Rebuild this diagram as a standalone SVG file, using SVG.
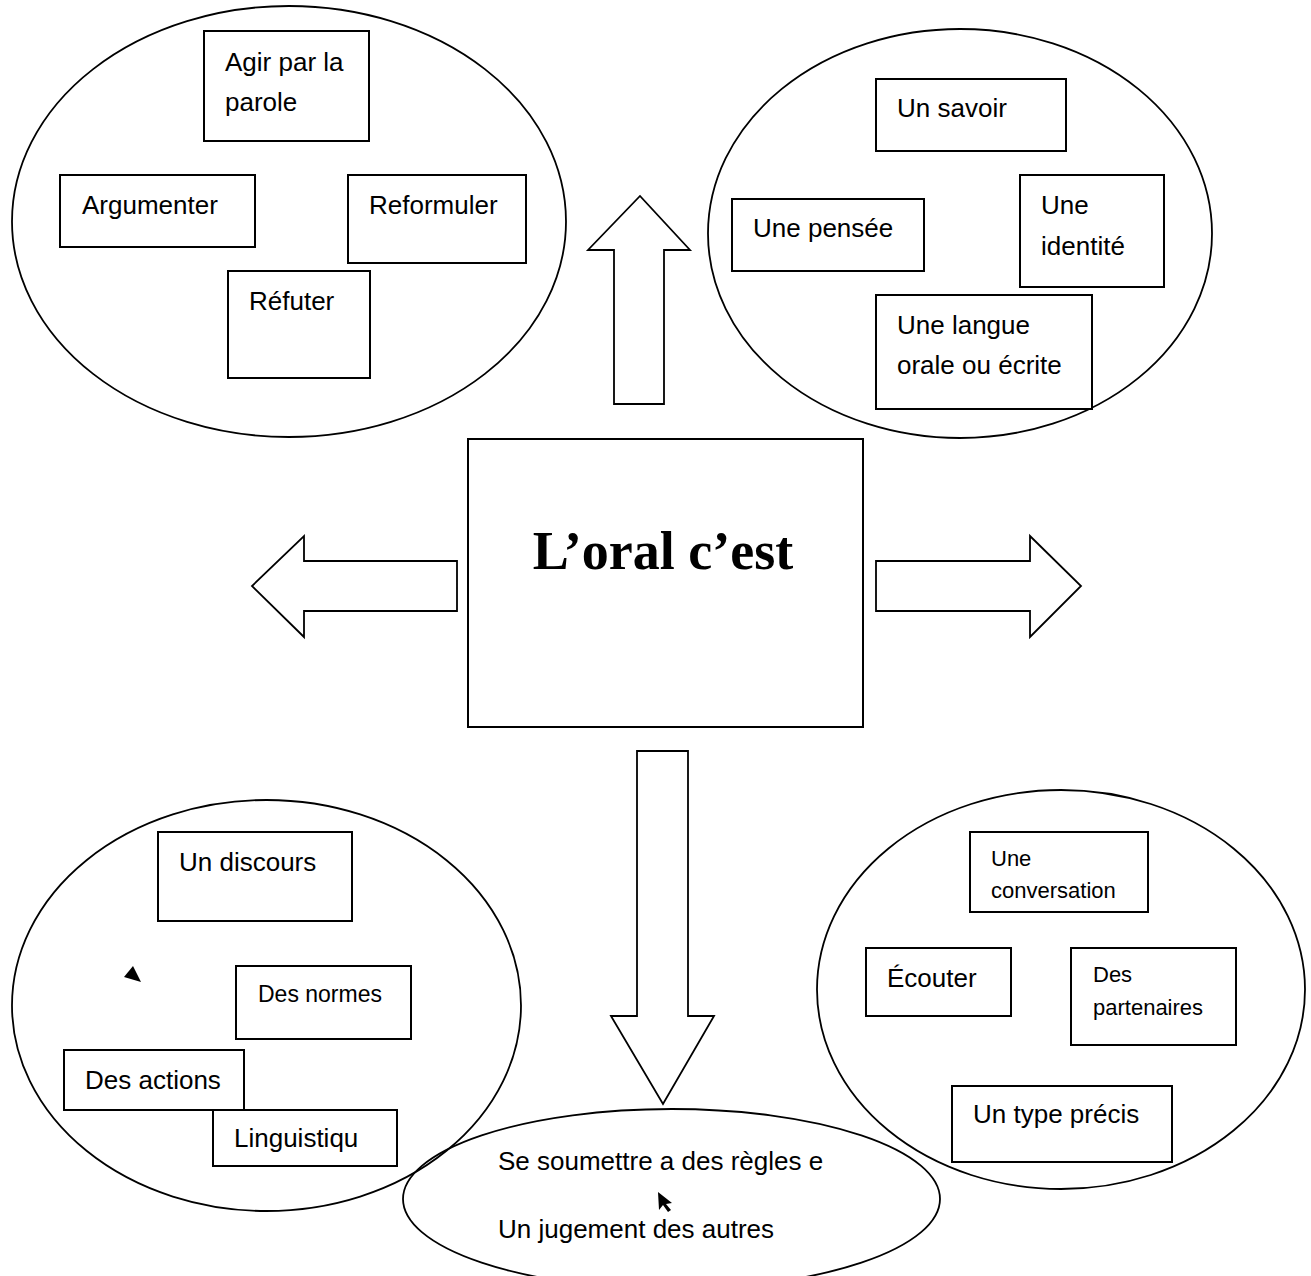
<svg xmlns="http://www.w3.org/2000/svg" width="1311" height="1276" viewBox="0 0 1311 1276">
<style>
.el{fill:none;stroke:#000;stroke-width:1.8}
.bx{fill:#fff;stroke:#000;stroke-width:2}
.ar{fill:#fff;stroke:#000;stroke-width:1.8;stroke-linejoin:miter}
.t{font-family:"Liberation Sans",Arial,sans-serif;font-size:26px;fill:#000}
.s{font-size:22px}
.m{font-size:23px}
.title{font-family:"Liberation Serif","Times New Roman",serif;font-weight:bold;font-size:54px;fill:#000}
</style>
<rect width="1311" height="1276" fill="#fff"/>

<g id="connectors">
<polygon class="ar" points="614,404 614,250 588,250 640,196 690,250 664,250 664,404"/>
<polygon class="ar" points="457,561 304,561 304,536 252,586 304,637 304,611 457,611"/>
<polygon class="ar" points="876,561 1030,561 1030,536 1081,586 1030,637 1030,611 876,611"/>
<polygon class="ar" points="637,751 688,751 688,1016 714,1016 663,1104 611,1016 637,1016"/>
</g>

<g id="group-top-left">
<ellipse class="el" cx="289" cy="221.5" rx="277" ry="215.5"/>
<g id="n-agir"><rect class="bx" x="204" y="31" width="165" height="110"/><text class="t" x="225" y="71">Agir par la</text><text class="t" x="225" y="111">parole</text></g>
<g id="n-argumenter"><rect class="bx" x="60" y="175" width="195" height="72"/><text class="t" x="82" y="214">Argumenter</text></g>
<g id="n-reformuler"><rect class="bx" x="348" y="175" width="178" height="88"/><text class="t" x="369" y="214">Reformuler</text></g>
<g id="n-refuter"><rect class="bx" x="228" y="271" width="142" height="107"/><text class="t" x="249" y="310">Réfuter</text></g>
</g>

<g id="group-top-right">
<ellipse class="el" cx="960" cy="233.5" rx="252" ry="204.5"/>
<g id="n-savoir"><rect class="bx" x="876" y="79" width="190" height="72"/><text class="t" x="897" y="117">Un savoir</text></g>
<g id="n-pensee"><rect class="bx" x="732" y="199" width="192" height="72"/><text class="t" x="753" y="237">Une pensée</text></g>
<g id="n-identite"><rect class="bx" x="1020" y="175" width="144" height="112"/><text class="t" x="1041" y="214">Une</text><text class="t" x="1041" y="255">identité</text></g>
<g id="n-langue"><rect class="bx" x="876" y="295" width="216" height="114"/><text class="t" x="897" y="334">Une langue</text><text class="t" x="897" y="374">orale ou écrite</text></g>
</g>

<g id="center">
<rect class="bx" x="468" y="439" width="395" height="288"/>
<text class="title" x="663" y="569" text-anchor="middle">L’oral c’est</text>
</g>

<g id="group-bottom-left">
<ellipse class="el" cx="266.5" cy="1005.5" rx="254.5" ry="205.5"/>
<g id="n-discours"><rect class="bx" x="158" y="832" width="194" height="89"/><text class="t" x="179" y="871">Un discours</text></g>
<polygon points="133,966 124,977 141,982" fill="#000"/>
<g id="n-normes"><rect class="bx" x="236" y="966" width="175" height="73"/><text class="t m" x="258" y="1002">Des normes</text></g>
<g id="n-actions"><rect class="bx" x="64" y="1050" width="180" height="60"/><text class="t" x="85" y="1089">Des actions</text></g>
<g id="n-linguistiqu"><rect class="bx" x="213" y="1110" width="184" height="56"/><text class="t" x="234" y="1147">Linguistiqu</text></g>
</g>

<g id="group-bottom">
<ellipse class="el" cx="671.5" cy="1199" rx="268.5" ry="90"/>
<text class="t" x="498" y="1170">Se soumettre a des règles e</text>
<polygon points="658,1192 659,1210 663,1205 668,1212 671,1210 666,1204 672,1203" fill="#000"/>
<text class="t" x="498" y="1238">Un jugement des autres</text>
</g>

<g id="group-bottom-right">
<ellipse class="el" cx="1061" cy="989.5" rx="244" ry="199.5"/>
<g id="n-conversation"><rect class="bx" x="970" y="832" width="178" height="80"/><text class="t s" x="991" y="866">Une</text><text class="t s" x="991" y="898">conversation</text></g>
<g id="n-ecouter"><rect class="bx" x="866" y="948" width="145" height="68"/><text class="t" x="887" y="987">Écouter</text></g>
<g id="n-partenaires"><rect class="bx" x="1071" y="948" width="165" height="97"/><text class="t s" x="1093" y="982">Des</text><text class="t s" x="1093" y="1015">partenaires</text></g>
<g id="n-type"><rect class="bx" x="952" y="1086" width="220" height="76"/><text class="t" x="973" y="1123">Un type précis</text></g>
</g>
</svg>
